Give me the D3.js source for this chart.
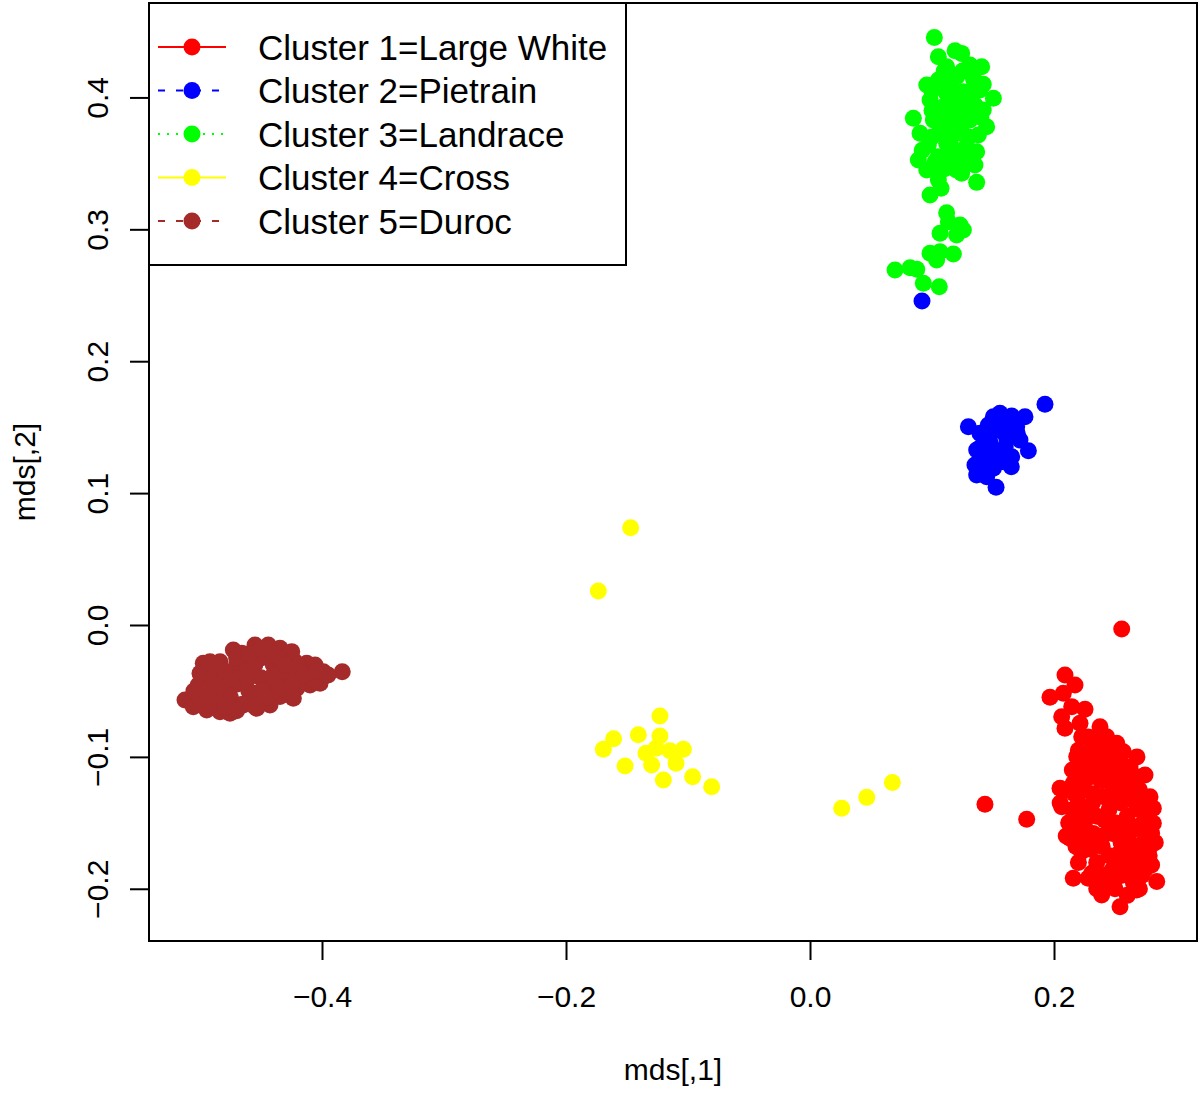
<!DOCTYPE html>
<html>
<head>
<meta charset="utf-8">
<script src="https://cdn.jsdelivr.net/npm/d3@7"></script>
<style>
  body { margin: 0; background: #fff; }
  svg { display: block; font-family: "Liberation Sans", Arial, sans-serif; }
</style>
</head>
<body>
<svg id="chart" width="1200" height="1095"></svg>
<script>
// 資料 (mds[,1], mds[,2])
const legendLabels = ['Cluster 1=Large White', 'Cluster 2=Pietrain', 'Cluster 3=Landrace', 'Cluster 4=Cross', 'Cluster 5=Duroc']
const xTicks = [-0.4, -0.2, 0.0, 0.2]
const yTicks = [-0.2, -0.1, 0.0, 0.1, 0.2, 0.3, 0.4]

const cluster1 = [
  [0.2555, -0.003], [0.209, -0.038], [0.2172, -0.0455], [0.1967, -0.0548], [0.2076, -0.0518],
  [0.2145, -0.0619], [0.2254, -0.0639], [0.2063, -0.0695], [0.209, -0.0783], [0.2213, -0.0745],
  [0.2377, -0.0771], [0.2227, -0.0847], [0.2432, -0.0847], [0.2514, -0.0897], [0.2568, -0.0961],
  [0.2186, -0.0998], [0.2336, -0.0948], [0.2623, -0.1074], [0.2746, -0.1137], [0.2049, -0.1238],
  [0.2158, -0.12], [0.2787, -0.1302], [0.2814, -0.139], [0.2063, -0.1378], [0.1776, -0.1473],
  [0.2172, -0.144], [0.2814, -0.1503], [0.2131, -0.1617], [0.28, -0.1579], [0.2295, -0.163],
  [0.2787, -0.1681], [0.28, -0.182], [0.2309, -0.1882], [0.2158, -0.192], [0.2842, -0.1945],
  [0.2391, -0.2047], [0.2541, -0.2136], [0.2678, -0.2009], [0.2486, -0.1984], [0.1434, -0.136],
  [0.225, -0.10], [0.24, -0.10], [0.255, -0.105], [0.23, -0.115], [0.245, -0.115],
  [0.26, -0.12], [0.27, -0.125], [0.225, -0.125], [0.24, -0.13], [0.255, -0.135],
  [0.27, -0.14], [0.22, -0.135], [0.235, -0.145], [0.25, -0.15], [0.265, -0.155],
  [0.225, -0.15], [0.24, -0.16], [0.255, -0.165], [0.27, -0.17], [0.23, -0.17],
  [0.245, -0.175], [0.26, -0.18], [0.275, -0.185], [0.24, -0.19], [0.255, -0.19],
  [0.265, -0.195], [0.215, -0.11], [0.21, -0.125], [0.212, -0.15], [0.228, -0.085],
  [0.245, -0.095], [0.262, -0.11], [0.275, -0.145], [0.278, -0.175], [0.25, -0.2],
  [0.235, -0.2], [0.22, -0.18],
  [0.22, -0.095], [0.232, -0.09], [0.25, -0.11], [0.235, -0.108], [0.268, -0.115],
  [0.22, -0.118], [0.232, -0.128], [0.248, -0.122], [0.262, -0.13], [0.276, -0.132],
  [0.215, -0.14], [0.228, -0.138], [0.245, -0.14], [0.26, -0.145], [0.22, -0.155],
  [0.232, -0.158], [0.248, -0.158], [0.262, -0.165], [0.276, -0.16], [0.218, -0.168],
  [0.235, -0.18], [0.25, -0.182], [0.265, -0.175], [0.228, -0.192], [0.245, -0.195],
  [0.26, -0.205], [0.272, -0.19], [0.255, -0.12], [0.238, -0.088], [0.252, -0.1],
  [0.226, -0.108], [0.268, -0.1], [0.205, -0.135], [0.21, -0.16], [0.27, -0.2],
  [0.283, -0.165],
  [0.2165, -0.128], [0.2295, -0.098], [0.243, -0.107], [0.2585, -0.112], [0.2385, -0.118],
  [0.251, -0.128], [0.2265, -0.145], [0.2415, -0.148], [0.2575, -0.152], [0.2705, -0.152],
  [0.2235, -0.162], [0.2395, -0.168], [0.2535, -0.173], [0.2685, -0.18], [0.2345, -0.188],
  [0.2475, -0.186], [0.262, -0.19], [0.2225, -0.172], [0.218, -0.148], [0.2665, -0.135],
  [0.273, -0.165], [0.2455, -0.133], [0.2315, -0.135], [0.2595, -0.158]
]

const cluster2 = [
  [0.1926, 0.1673], [0.1298, 0.1503], [0.1503, 0.1579], [0.1557, 0.1605], [0.1653, 0.1585],
  [0.1762, 0.1579], [0.1462, 0.1516], [0.1393, 0.1453], [0.1544, 0.1478], [0.1694, 0.1503],
  [0.1612, 0.1415], [0.1475, 0.139], [0.1721, 0.1403], [0.1366, 0.1327], [0.153, 0.1314],
  [0.179, 0.1321], [0.1653, 0.1276], [0.1448, 0.1251], [0.1352, 0.1213], [0.1571, 0.1238],
  [0.1503, 0.1188], [0.1366, 0.1137], [0.1448, 0.1124], [0.1525, 0.1044], [0.0918, 0.2456],
  [0.158, 0.15], [0.145, 0.145], [0.16, 0.135], [0.15, 0.128], [0.14, 0.135],
  [0.165, 0.12], [0.17, 0.145], [0.142, 0.118]
]

const cluster3 = [
  [0.1019, 0.4455], [0.1189, 0.4354], [0.1243, 0.4334], [0.1052, 0.4309], [0.1407, 0.4233],
  [0.1311, 0.4246], [0.112, 0.4233], [0.0957, 0.4094], [0.1052, 0.4132], [0.1202, 0.4157],
  [0.1339, 0.4145], [0.1393, 0.4056], [0.1503, 0.3993], [0.0984, 0.398], [0.112, 0.4031],
  [0.1257, 0.4043], [0.123, 0.3955], [0.1093, 0.393], [0.1352, 0.3942], [0.142, 0.3904],
  [0.0847, 0.3842], [0.1011, 0.3829], [0.1175, 0.3854], [0.1311, 0.3829], [0.1448, 0.3778],
  [0.0902, 0.3728], [0.1066, 0.3753], [0.123, 0.3728], [0.138, 0.3715], [0.097, 0.3639],
  [0.112, 0.3652], [0.1284, 0.3626], [0.1366, 0.3588], [0.0888, 0.3525], [0.1025, 0.3513],
  [0.1148, 0.355], [0.123, 0.35], [0.1352, 0.3488], [0.0957, 0.345], [0.1107, 0.3462],
  [0.1243, 0.3425], [0.1052, 0.3374], [0.1366, 0.3356], [0.1074, 0.3311], [0.0984, 0.326],
  [0.112, 0.3126], [0.1134, 0.3058], [0.123, 0.3033], [0.1066, 0.297], [0.1257, 0.2995],
  [0.1202, 0.2957], [0.0984, 0.2818], [0.1066, 0.283], [0.1175, 0.2813], [0.1038, 0.2767],
  [0.0697, 0.2691], [0.082, 0.2709], [0.0875, 0.2697], [0.0929, 0.2591], [0.106, 0.2565],
  [0.115, 0.41], [0.128, 0.39], [0.118, 0.375], [0.108, 0.385], [0.132, 0.405], [0.125, 0.36],
  [0.11, 0.42], [0.125, 0.42], [0.135, 0.41], [0.12, 0.4], [0.1, 0.39],
  [0.13, 0.395], [0.113, 0.395], [0.1, 0.37], [0.115, 0.365], [0.13, 0.37],
  [0.105, 0.355], [0.12, 0.345], [0.13, 0.35], [0.142, 0.41], [0.14, 0.385],
  [0.092, 0.36], [0.1, 0.405], [0.108, 0.345], [0.115, 0.38], [0.125, 0.38]
]

const cluster4 = [
  [-0.147, 0.0738], [-0.1735, 0.0258], [-0.123, -0.069], [-0.161, -0.0862], [-0.1407, -0.0832],
  [-0.123, -0.0842], [-0.1694, -0.0943], [-0.1344, -0.0973], [-0.1262, -0.0935], [-0.1148, -0.0953],
  [-0.1038, -0.0943], [-0.1516, -0.1069], [-0.1298, -0.1061], [-0.1098, -0.1049], [-0.1202, -0.1175],
  [-0.0962, -0.115], [-0.0806, -0.1226], [0.026, -0.139], [0.0465, -0.1307], [0.0675, -0.1195]
]

const cluster5 = [
  [-0.3834, -0.0354], [-0.5123, -0.0569], [-0.5055, -0.0619], [-0.4973, -0.029], [-0.4918, -0.0278],
  [-0.4836, -0.0278], [-0.4727, -0.019], [-0.4658, -0.0215], [-0.4549, -0.0152], [-0.444, -0.0152],
  [-0.4344, -0.0177], [-0.4248, -0.0202], [-0.4221, -0.0278], [-0.4125, -0.029], [-0.4057, -0.0303],
  [-0.3989, -0.0354], [-0.4016, -0.0442], [-0.4098, -0.0455], [-0.4207, -0.048], [-0.4235, -0.0556],
  [-0.4344, -0.0543], [-0.4426, -0.0607], [-0.4535, -0.0632], [-0.4645, -0.0607], [-0.4754, -0.0669],
  [-0.4836, -0.0657], [-0.4945, -0.0644], [-0.5014, -0.0455], [-0.5, -0.0366],
  [-0.49, -0.04], [-0.48, -0.035], [-0.47, -0.045], [-0.46, -0.03], [-0.45, -0.04],
  [-0.44, -0.03], [-0.43, -0.04], [-0.42, -0.035], [-0.48, -0.05], [-0.46, -0.05],
  [-0.44, -0.045], [-0.47, -0.03], [-0.45, -0.025], [-0.455, -0.055], [-0.485, -0.055],
  [-0.43, -0.05], [-0.41, -0.04],
  [-0.495, -0.05], [-0.49, -0.03], [-0.485, -0.045], [-0.475, -0.04], [-0.475, -0.055],
  [-0.465, -0.035], [-0.465, -0.06], [-0.46, -0.04], [-0.455, -0.03], [-0.45, -0.05],
  [-0.445, -0.055], [-0.44, -0.038], [-0.435, -0.025], [-0.435, -0.048], [-0.425, -0.045],
  [-0.42, -0.03], [-0.415, -0.038], [-0.47, -0.025], [-0.46, -0.022], [-0.45, -0.018],
  [-0.44, -0.022], [-0.43, -0.03], [-0.5, -0.055], [-0.49, -0.058], [-0.48, -0.062],
  [-0.47, -0.065], [-0.455, -0.062], [-0.505, -0.05], [-0.395, -0.038], [-0.405, -0.035]
]

const clusterColors = ['#ff0000', '#0000ff', '#00ff00', '#ffff00', '#a52a2a']
const legendDash = ['none', '7,11', '2,7', 'none', '7,11']

// 畫布
const svg = d3.select('#chart')
const plot = { left: 149, right: 1197, top: 3, bottom: 941 }

const xScale = d3.scaleLinear().domain([-0.5418, 0.3172]).range([plot.left, plot.right])
const yScale = d3.scaleLinear().domain([-0.2396, 0.4716]).range([plot.bottom, plot.top])

// 點 (綠先畫, 藍的離群點在上面)
const series = [
  { pts: cluster1, color: clusterColors[0] },
  { pts: cluster3, color: clusterColors[2] },
  { pts: cluster2, color: clusterColors[1] },
  { pts: cluster4, color: clusterColors[3] },
  { pts: cluster5, color: clusterColors[4] }
]

series.forEach(s => {
  svg.append('g').selectAll('circle').data(s.pts)
    .enter().append('circle')
    .attr('cx', d => xScale(d[0]))
    .attr('cy', d => yScale(d[1]))
    .attr('r', 8.5)
    .style('fill', s.color)
})

// 軸
const fmt = d3.format('.1f')
const xAxis = d3.axisBottom(xScale).tickValues(xTicks).tickFormat(fmt).tickSize(19).tickSizeOuter(0).tickPadding(26)
const xAxisDraw = svg.append('g')
  .attr('transform', `translate(0,${plot.bottom})`)
  .call(xAxis)
xAxisDraw.select('.domain').remove()
xAxisDraw.selectAll('line').attr('stroke', '#000').attr('stroke-width', 2)
xAxisDraw.selectAll('text').style('font-size', '30px').style('fill', '#000').style('font-family', '"Liberation Sans", Arial, sans-serif')

const yAxis = d3.axisLeft(yScale).tickValues(yTicks).tickFormat(fmt).tickSize(19).tickSizeOuter(0)
const yAxisDraw = svg.append('g')
  .attr('transform', `translate(${plot.left},0)`)
  .call(yAxis)
yAxisDraw.select('.domain').remove()
yAxisDraw.selectAll('line').attr('stroke', '#000').attr('stroke-width', 2)
yAxisDraw.selectAll('text')
  .attr('x', 0).attr('y', -41).attr('dy', null)
  .attr('transform', 'rotate(-90)')
  .style('text-anchor', 'middle')
  .style('font-size', '30px').style('fill', '#000').style('font-family', '"Liberation Sans", Arial, sans-serif')

// 外框
svg.append('rect')
  .attr('x', plot.left).attr('y', plot.top)
  .attr('width', plot.right - plot.left).attr('height', plot.bottom - plot.top)
  .style('fill', 'none').style('stroke', '#000').style('stroke-width', 2)

// 軸標題
svg.append('text')
  .attr('x', (plot.left + plot.right) / 2).attr('y', 1080)
  .style('text-anchor', 'middle').style('font-size', '30px')
  .text('mds[,1]')
svg.append('text')
  .attr('transform', `translate(35,${(plot.top + plot.bottom) / 2}) rotate(-90)`)
  .style('text-anchor', 'middle').style('font-size', '30px')
  .text('mds[,2]')

// 圖例
const legend = svg.append('g')
legend.append('rect')
  .attr('x', plot.left).attr('y', plot.top).attr('width', 477).attr('height', 262)
  .style('fill', '#fff').style('stroke', '#000').style('stroke-width', 2)

const rowY = i => 47 + i * 43.5
const items = legend.selectAll('.legend-item').data(legendLabels)
  .enter().append('g').attr('class', 'legend-item')
  .attr('transform', (d, i) => `translate(0,${rowY(i)})`)
items.append('line')
  .attr('x1', 158).attr('x2', 226).attr('y1', 0).attr('y2', 0)
  .style('stroke', (d, i) => clusterColors[i])
  .style('stroke-width', 2)
  .style('stroke-dasharray', (d, i) => legendDash[i])
items.append('circle')
  .attr('cx', 192).attr('cy', 0).attr('r', 8.5)
  .style('fill', (d, i) => clusterColors[i])
items.append('text')
  .attr('x', 258).attr('y', 0).attr('dy', '0.36em')
  .style('font-size', '35px')
  .text(d => d)
</script>
</body>
</html>
